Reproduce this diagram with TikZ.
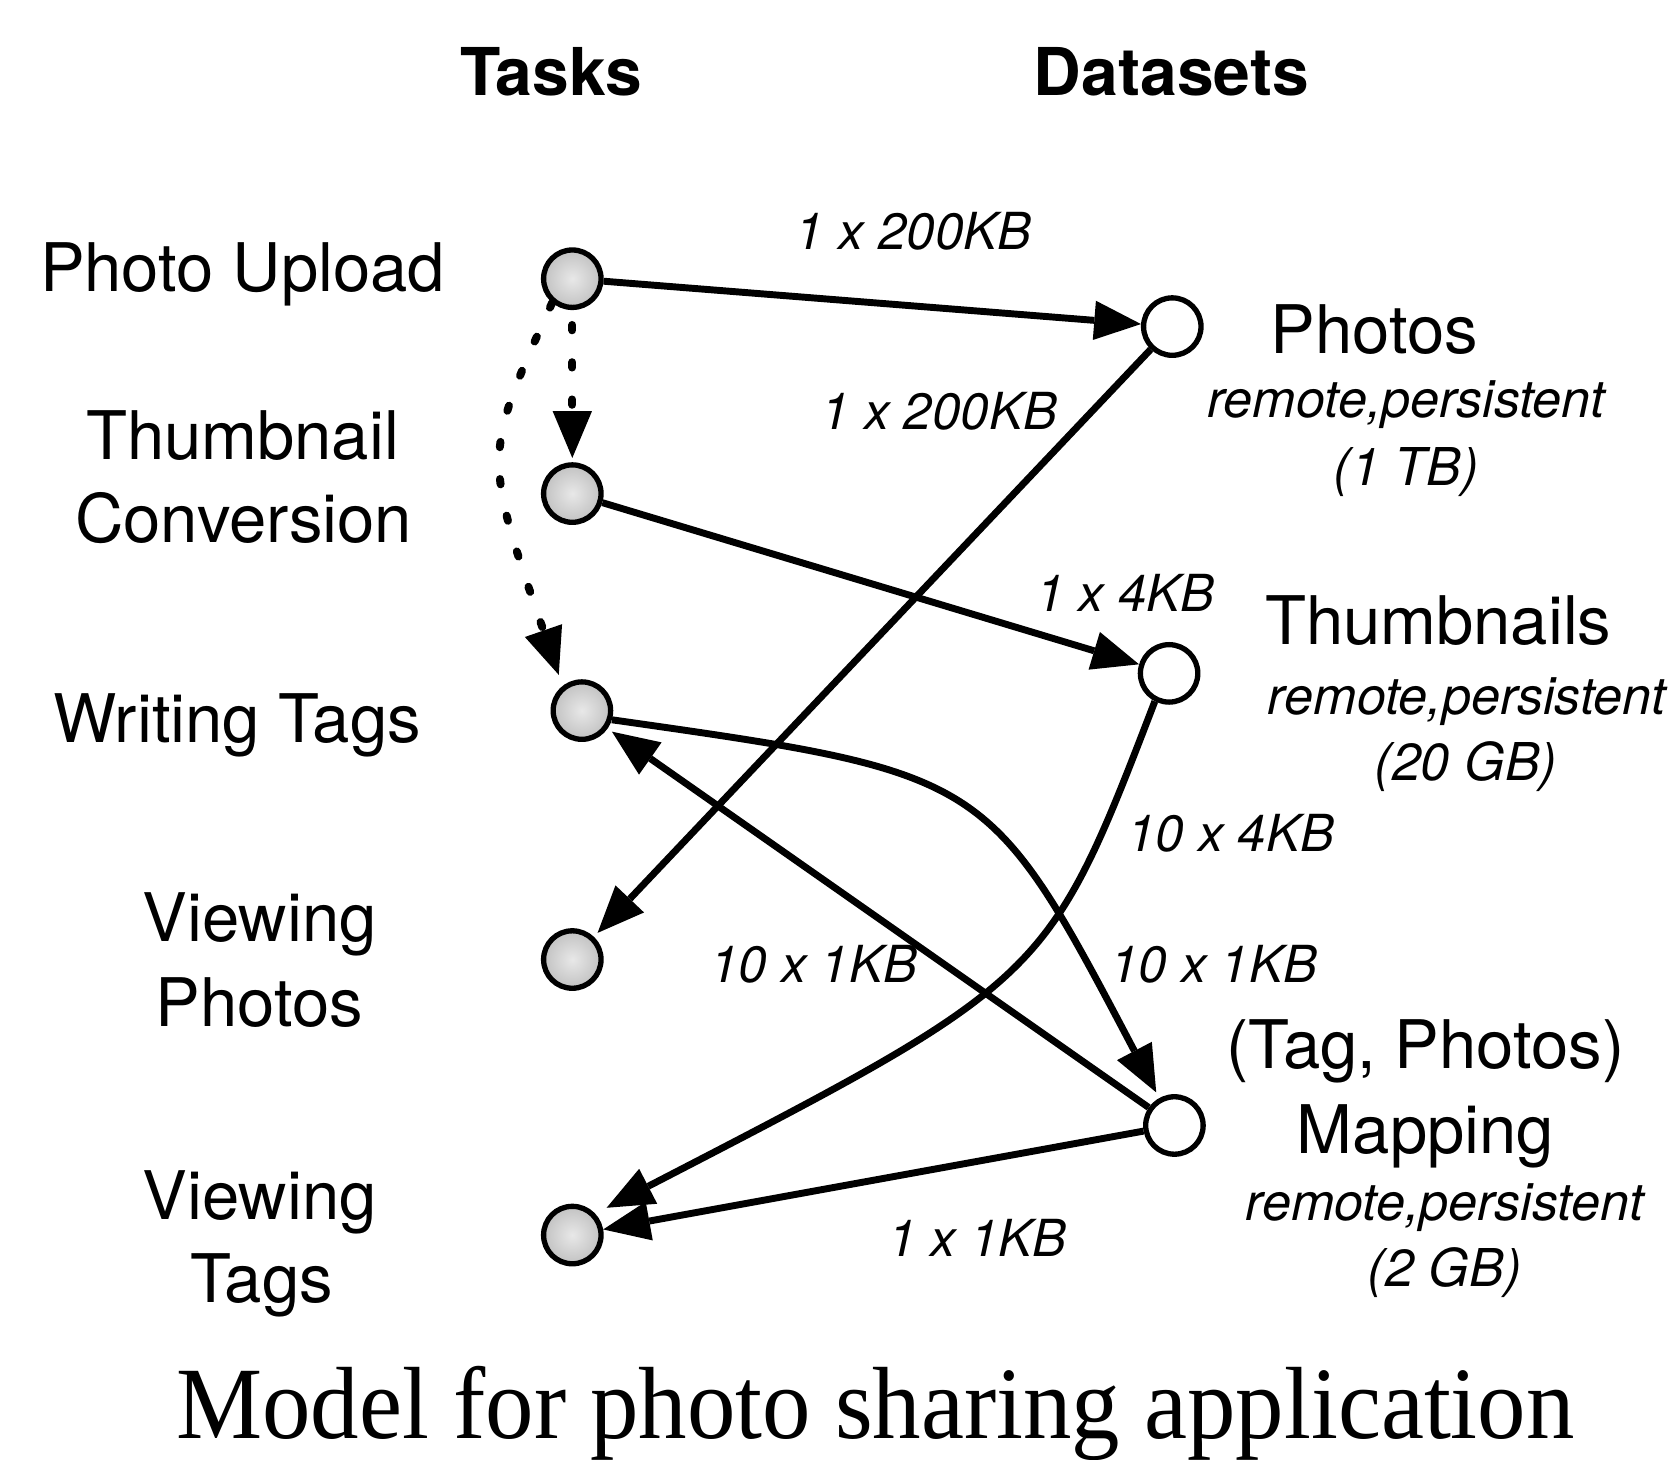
\documentclass[tikz,border=0pt]{standalone}
\usepackage{fontspec}
\usepackage{graphicx}
\setmainfont{TeX Gyre Heros}
\newfontfamily\capfont{Liberation Serif}
\usetikzlibrary{arrows.meta}
\begin{document}
\begin{tikzpicture}[x=1pt,y=-1pt,
  task/.style={circle, draw, line width=5pt, minimum size=54pt, inner sep=0pt, inner color=black!9, outer color=black!24},
  store/.style={circle, draw, line width=5pt, minimum size=54pt, inner sep=0pt, fill=white},
  lbl/.style={anchor=base, inner sep=0pt, font=\fontsize{63}{70}\selectfont},
  hdr/.style={anchor=base, inner sep=0pt, font=\fontsize{62}{70}\selectfont\bfseries},
  elbl/.style={anchor=base, inner sep=0pt, font=\fontsize{48}{56}\selectfont\itshape},
  attr/.style={anchor=base, inner sep=0pt, font=\fontsize{49}{56}\selectfont\itshape},
  edge/.style={line width=6.5pt, -{Triangle[length=44pt,width=37pt,line width=0pt]}},
  dots/.style={line width=7.5pt, line cap=round, dash pattern=on 5pt off 30pt, -{Triangle[length=44pt,width=37pt,line width=0pt]}},
]
\useasboundingbox (0,0) rectangle (1568,1372);

% headers
\node[hdr] (htasks) at (518,90) {Tasks};
\node[hdr] (hdata) at (1101,90) {Datasets};

% task labels
\node[lbl] (lpu) at (228,274) {Photo Upload};
\node[lbl] (ltc1) at (228,432) {Thumbnail};
\node[lbl] (ltc2) at (229,510) {Conversion};
\node[lbl] (lwt) at (223,698) {Writing Tags};
\node[lbl] (lvp1) at (244,885) {Viewing};
\node[lbl] (lvp2) at (244,965) {Photos};
\node[lbl] (lvt1) at (244,1146) {Viewing};
\node[lbl] (lvt2) at (246,1224) {Tags};

% task nodes
\node[task] (pu) at (538,262) {};
\node[task] (tc) at (538,464) {};
\node[task] (wt) at (547,668) {};
\node[task] (vp) at (538,902) {};
\node[task] (vt) at (538,1161) {};

% dataset nodes
\node[store] (ph) at (1102,307) {};
\node[store] (th) at (1099,633) {};
\node[store] (mp) at (1104,1058) {};

% dataset labels
\node[lbl] (lph) at (1292,332) {Photos};
\node[attr] (aph1) at (1322,392) {remote,persistent};
\node[attr] (aph2) at (1322,456) {(1 TB)};
\node[lbl] (lth) at (1352,606) {Thumbnails};
\node[attr] (ath1) at (1379,672) {remote,persistent};
\node[attr] (ath2) at (1378,734) {(20 GB)};
\node[lbl] (lmp1) at (1340,1004) {(Tag, Photos)};
\node[lbl] (lmp2) at (1340,1084) {Mapping};
\node[attr] (amp1) at (1358,1147) {remote,persistent};
\node[attr] (amp2) at (1358,1209) {(2 GB)};

% edges
\draw[edge] (pu) -- (ph);
\draw[edge] (tc) -- (th);
\draw[edge, shorten >=5pt] (ph) -- (vp);
\draw[edge, shorten >=5pt] (mp) -- (wt);
\draw[edge] (mp) -- (vt);
\draw[edge, shorten >=6pt] (wt.-17) .. controls (929,727) and (929,727) .. (mp.119);
\draw[edge, shorten >=12pt] (th.-117) .. controls (985,921) and (985,921) .. (vt.43);
\draw[dots, shorten <=14pt, shorten >=4pt] (pu) -- (tc);
\draw[dots, shorten >=11pt] (pu.-130) .. controls (454,428) and (454,428) .. (wt.128);

% edge labels
\node[elbl] (e1) at (859,235) {1 x 200KB};
\node[elbl] (e2) at (883,404) {1 x 200KB};
\node[elbl] (e3) at (1058,575) {1 x 4KB};
\node[elbl] (e4) at (1157,800) {10 x 4KB};
\node[elbl] (e5) at (765,924) {10 x 1KB};
\node[elbl] (e6) at (1141,924) {10 x 1KB};
\node[elbl] (e7) at (919,1181) {1 x 1KB};

% caption
\node[anchor=base, inner sep=0pt] (cap) at (823,1352) {\scalebox{1}[1.06]{\capfont\fontsize{91}{100}\selectfont Model for photo sharing application}};
\end{tikzpicture}
\end{document}
